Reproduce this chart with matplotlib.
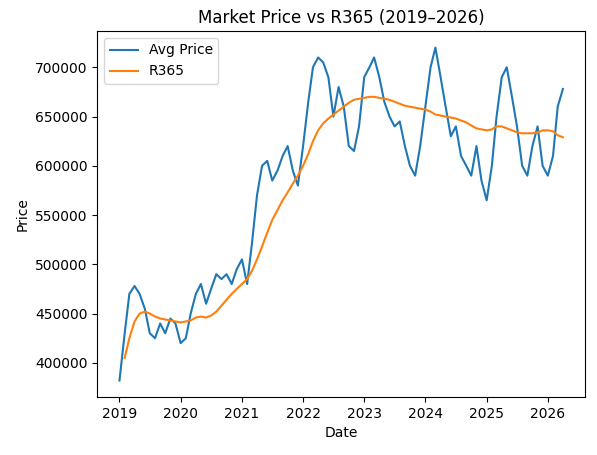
import matplotlib
matplotlib.use("Agg")
import matplotlib.pyplot as plt
import pandas as pd

# monthly readings of the daily average price (thousands)
price_dates = pd.date_range("2019-01-01", "2026-04-01", freq="MS")
avg_price_k = [
    382, 430, 470, 478, 470, 455, 430, 425, 440, 430, 445, 440,
    420, 425, 450, 470, 480, 460, 475, 490, 485, 490, 480, 495,
    505, 480, 520, 570, 600, 605, 585, 595, 610, 620, 595, 580,
    620, 665, 700, 710, 705, 690, 650, 680, 660, 620, 615, 640,
    690, 700, 710, 690, 665, 650, 640, 645, 620, 600, 590, 620,
    660, 700, 720, 690, 660, 630, 640, 610, 600, 590, 620, 585,
    565, 600, 650, 690, 700, 670, 640, 600, 590, 620, 640, 600,
    590, 610, 660, 678,
]

r365_dates = pd.date_range("2019-02-01", "2026-04-01", freq="MS")
r365_k = [
    405, 425, 442, 450, 452, 450, 447, 445, 444, 443, 442,
    441, 442, 443, 446, 447, 446, 448, 452, 458, 464, 470, 475,
    480, 485, 493, 505, 518, 532, 545, 555, 565, 573, 582, 590,
    600, 612, 625, 636, 643, 648, 652, 656, 660, 664, 667, 668,
    669, 670, 670, 669, 668, 667, 665, 663, 661, 660, 659, 658,
    657, 655, 652, 651, 650, 649, 648, 646, 644, 641, 638, 637,
    636, 637, 640, 640, 638, 636, 634, 633, 633, 633, 634, 636,
    636, 635, 631, 629,
]

fig, ax = plt.subplots(figsize=(5.97, 4.55), dpi=100)
ax.plot(price_dates, [v * 1000 for v in avg_price_k], label="Avg Price")
ax.plot(r365_dates, [v * 1000 for v in r365_k], label="R365")
ax.set_title("Market Price vs R365 (2019–2026)")
ax.set_xlabel("Date")
ax.set_ylabel("Price")
ax.legend(loc="upper left")
fig.subplots_adjust(left=0.163, right=0.98, top=0.932, bottom=0.127)
fig.savefig("out.png")
